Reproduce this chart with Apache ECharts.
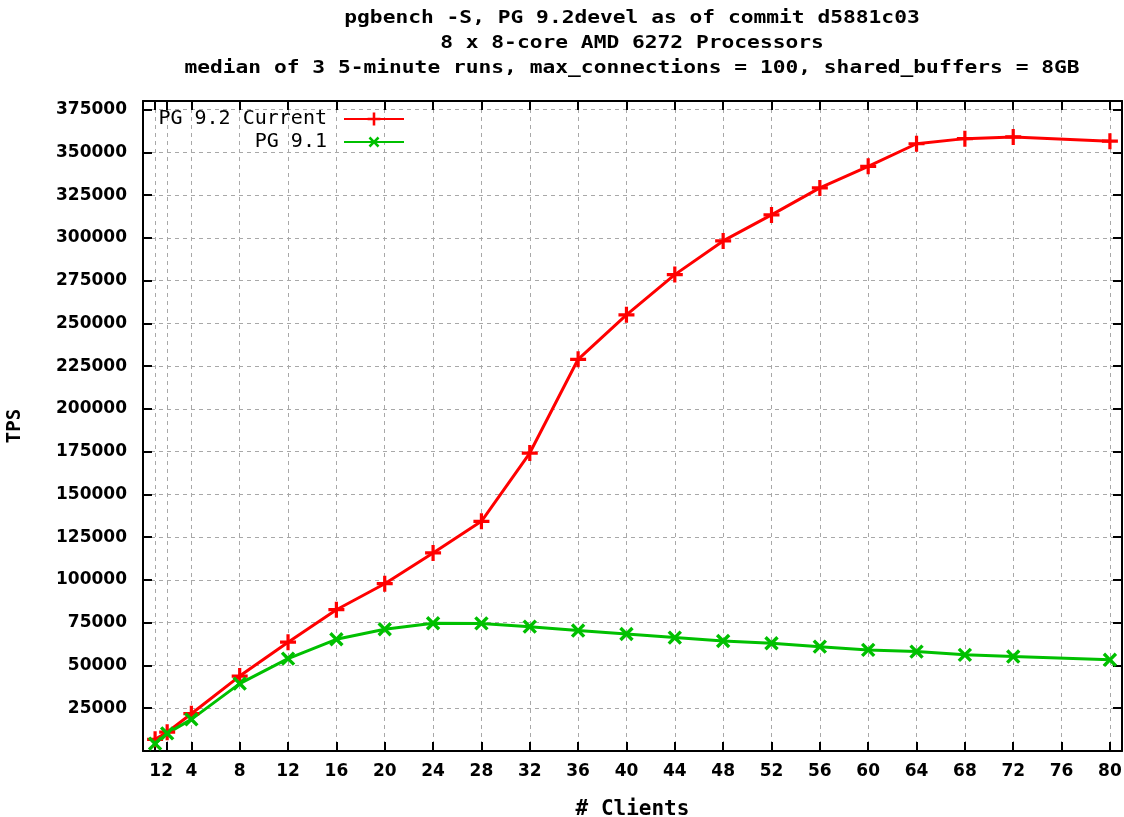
<!DOCTYPE html>
<html><head><meta charset="utf-8">
<script src="https://cdn.jsdelivr.net/npm/echarts@6/dist/echarts.min.js"></script>
<style>html,body{margin:0;padding:0;background:#fff}#c{width:1124px;height:817px}</style>
</head><body><div id="c"></div>
<script>
const titleLines = [
  'pgbench -S, PG 9.2devel as of commit d5881c03',
  '8 x 8-core AMD 6272 Processors',
  'median of 3 5-minute runs, max_connections = 100, shared_buffers = 8GB'
];
const xName = '# Clients';
const yName = 'TPS';
const seriesNames = ['PG 9.2 Current', 'PG 9.1'];
const clients = [1, 2, 4, 8, 12, 16, 20, 24, 28, 32, 36, 40, 44, 48, 52, 56, 60, 64, 68, 72, 80];
const pg92 = [6800, 11000, 21800, 43800, 63600, 82600, 97800, 115800, 134300, 174200, 229000, 255000, 278500, 298200, 313400, 329200, 341800, 355000, 358000, 359000, 356500];
const pg91 = [4300, 10300, 18500, 39400, 54000, 65300, 71200, 74700, 74600, 72700, 70400, 68400, 66300, 64300, 63000, 61000, 59100, 58100, 56200, 55200, 53300];
const xTicks = [1, 2, 4, 8, 12, 16, 20, 24, 28, 32, 36, 40, 44, 48, 52, 56, 60, 64, 68, 72, 76, 80];
const yTicks = [25000, 50000, 75000, 100000, 125000, 150000, 175000, 200000, 225000, 250000, 275000, 300000, 325000, 350000, 375000];

const chart = echarts.init(document.getElementById('c'), null, {renderer: 'canvas'});
const plusPath = 'path://M4,0H6V4H10V6H6V10H4V6H0V4H4Z';
const labelFont = {color: '#000', fontFamily: 'DejaVu Sans', fontWeight: 'bold', fontSize: 17};
const gridLine = {show: true, lineStyle: {color: '#a8a8a8', width: 1, type: [4, 4]}};
const tickStyle = {show: true, inside: true, length: 9, lineStyle: {color: '#000', width: 2}};
const axisLineStyle = {show: true, onZero: false, lineStyle: {color: '#000', width: 2}};

const option = {
  backgroundColor: '#fff',
  animation: false,
  graphic: [{
    type: 'text', x: 632, y: 6, scaleX: 1.18,
    style: {
      text: titleLines.join('\n'), align: 'center', verticalAlign: 'top',
      font: 'bold 18px "DejaVu Sans Mono"', lineHeight: 25, fill: '#000'
    }
  }],
  grid: {left: 143, right: 2, top: 101, bottom: 66, show: false, containLabel: false, outerBoundsMode: 'none'},
  legend: [
    {
      data: [seriesNames[0]], right: 719, top: 109, padding: 0, align: 'right',
      itemWidth: 60, itemHeight: 16, formatter: n => n + ' ',
      textStyle: {fontFamily: 'DejaVu Sans Mono', fontSize: 20, color: '#000'}
    },
    {
      data: [seriesNames[1]], right: 719, top: 132, padding: 0, align: 'right',
      itemWidth: 60, itemHeight: 16, formatter: n => n + ' ',
      textStyle: {fontFamily: 'DejaVu Sans Mono', fontSize: 20, color: '#000'}
    }
  ],
  xAxis: [
    {
      type: 'value', min: 0, max: 81, position: 'bottom',
      name: xName, nameLocation: 'middle', nameGap: 48,
      nameTextStyle: {fontFamily: 'DejaVu Sans Mono', fontWeight: 'bold', fontSize: 21, color: '#000'},
      axisLine: axisLineStyle,
      axisTick: Object.assign({customValues: xTicks}, tickStyle),
      axisLabel: Object.assign({customValues: xTicks, margin: 12, formatter: v => String(v)}, labelFont),
      splitLine: gridLine
    },
    {
      type: 'value', min: 0, max: 81, position: 'top',
      axisLine: axisLineStyle,
      axisTick: Object.assign({customValues: xTicks}, tickStyle),
      axisLabel: {show: false},
      splitLine: {show: false}
    }
  ],
  yAxis: [
    {
      type: 'value', min: 0, max: 380000, position: 'left',
      name: yName, nameLocation: 'middle', nameGap: 118,
      nameTextStyle: {fontFamily: 'DejaVu Sans Mono', fontWeight: 'bold', fontSize: 19, color: '#000'},
      axisLine: axisLineStyle,
      axisTick: Object.assign({customValues: yTicks}, tickStyle),
      axisLabel: Object.assign({customValues: yTicks, margin: 16, formatter: v => String(v)}, labelFont),
      splitLine: gridLine
    },
    {
      type: 'value', min: 0, max: 380000, position: 'right',
      axisLine: axisLineStyle,
      axisTick: Object.assign({customValues: yTicks}, tickStyle),
      axisLabel: {show: false},
      splitLine: {show: false}
    }
  ],
  series: [
    {
      name: seriesNames[0], type: 'line', xAxisIndex: 0, yAxisIndex: 0,
      data: clients.map((c, i) => [c, pg92[i]]),
      symbol: plusPath, symbolSize: 16, showAllSymbol: true,
      lineStyle: {color: '#ff0000', width: 3},
      itemStyle: {color: '#ff0000'}
    },
    {
      name: seriesNames[1], type: 'line', xAxisIndex: 0, yAxisIndex: 0,
      data: clients.map((c, i) => [c, pg91[i]]),
      symbol: plusPath, symbolRotate: 45, symbolSize: 17, showAllSymbol: true,
      lineStyle: {color: '#00c000', width: 3},
      itemStyle: {color: '#00c000'}
    }
  ]
};
chart.setOption(option);
</script>
</body></html>
